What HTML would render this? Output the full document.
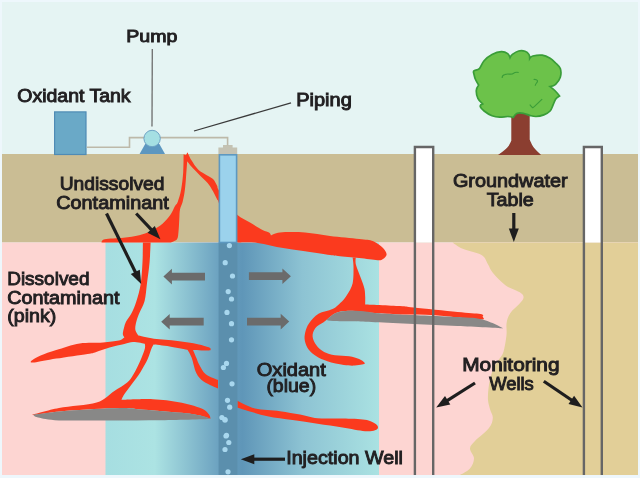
<!DOCTYPE html>
<html><head><meta charset="utf-8"><style>
html,body{margin:0;padding:0;background:#eef7fc;}
svg{display:block;will-change:transform;}
</style></head><body>
<svg width="640" height="478" viewBox="0 0 640 478">
<rect x="0" y="0" width="640" height="478" fill="#eef7fc"/>
<rect x="2" y="2" width="636" height="152.5" fill="#e5f4f3"/>
<rect x="2" y="154" width="636" height="88.5" fill="#cabd94"/>
<rect x="2" y="242.5" width="636" height="232.5" fill="#fdd5d2"/>
<path d="M452.6,242.5 C452.6,242.5 457.9,246.7 462.7,248.8 C467.5,250.9 477.3,252.5 481.5,255.0 C485.7,257.5 485.9,260.9 487.8,263.9 C489.7,266.8 489.9,269.1 492.8,272.7 C495.7,276.2 500.8,281.8 505.4,285.2 C510.0,288.6 517.5,290.7 520.5,292.8 C523.5,294.9 523.7,295.9 523.5,297.8 C523.3,299.7 521.4,301.5 519.2,304.0 C517.0,306.5 512.5,309.8 510.4,312.9 C508.3,316.0 507.2,319.2 506.6,322.9 C506.0,326.6 507.0,330.2 506.5,335.0 C506.0,339.8 504.8,347.5 503.5,351.7 C502.2,355.9 500.2,357.2 498.5,360.0 C496.8,362.8 494.9,365.4 493.5,368.5 C492.1,371.6 491.0,375.2 490.2,378.5 C489.4,381.8 488.9,384.9 488.5,388.5 C488.1,392.1 487.7,396.4 488.0,400.0 C488.3,403.6 489.5,407.0 490.3,410.0 C491.1,413.0 493.0,415.0 492.8,418.0 C492.6,421.0 492.0,424.2 489.0,428.0 C486.0,431.8 478.2,437.6 475.0,441.0 C471.8,444.4 470.2,445.6 470.0,448.5 C469.8,451.4 474.0,455.2 474.0,458.5 C474.0,461.8 472.3,465.8 470.0,468.5 C467.7,471.2 460.0,475.0 460.0,475.0 C460.0,475.0 638.0,475.0 638.0,475.0 C638.0,475.0 638.0,242.5 638.0,242.5 C638.0,242.5 452.6,242.5 452.6,242.5Z" fill="#e2cf98"/>
<defs>
<linearGradient id="ox" x1="105.5" y1="0" x2="379" y2="0" gradientUnits="userSpaceOnUse">
<stop offset="0" stop-color="#a6dee1"/>
<stop offset="0.18" stop-color="#ace3e3"/>
<stop offset="0.42" stop-color="#6aa0bf"/>
<stop offset="0.5" stop-color="#5f96b8"/>
<stop offset="0.72" stop-color="#8dc3d3"/>
<stop offset="1" stop-color="#aae2e2"/>
</linearGradient>
</defs>
<rect x="105.5" y="242.5" width="273.5" height="232.5" fill="url(#ox)"/>
<path d="M187.5,152.2 C187.5,152.2 189.5,157.1 191.3,160.0 C193.1,162.9 195.6,167.0 198.1,169.5 C200.6,172.0 203.8,173.3 206.3,174.9 C208.8,176.5 211.2,177.2 213.0,179.0 C214.8,180.8 216.2,184.0 217.1,185.8 C218.0,187.6 216.7,187.1 218.5,189.8 C220.3,192.5 224.8,197.8 228.0,202.0 C231.2,206.2 233.8,211.6 237.5,215.0 C241.2,218.4 245.8,220.0 250.0,222.5 C254.2,225.0 259.3,228.3 262.5,230.0 C265.7,231.7 267.6,231.6 269.0,232.5 C270.4,233.4 271.0,235.5 271.0,235.5 C271.0,235.5 274.3,233.0 280.0,232.5 C285.7,232.0 296.7,231.9 305.0,232.5 C313.3,233.1 321.0,234.9 330.0,236.0 C339.0,237.1 352.0,238.1 359.2,239.0 C366.4,239.9 369.3,239.7 373.3,241.2 C377.3,242.7 380.8,245.8 383.0,248.0 C385.2,250.2 386.6,252.7 386.6,254.5 C386.6,256.3 384.5,258.1 383.0,259.0 C381.5,259.9 381.5,260.4 377.5,260.2 C373.5,260.0 365.8,258.7 359.2,258.0 C352.6,257.3 342.9,256.5 338.0,256.0 C333.1,255.5 335.5,255.8 330.0,255.0 C324.5,254.2 313.3,252.4 305.0,251.2 C296.7,249.9 288.3,248.9 280.0,247.5 C271.7,246.1 262.1,243.3 255.0,242.5 C247.9,241.7 237.5,242.5 237.5,242.5 C237.5,242.5 228.2,226.8 225.0,220.0 C221.8,213.2 219.8,205.4 218.5,202.0 C217.2,198.6 218.0,201.1 217.1,199.3 C216.2,197.5 214.6,193.9 213.0,191.2 C211.4,188.5 209.8,185.7 207.6,183.0 C205.3,180.3 202.0,177.4 199.5,174.9 C197.0,172.4 194.8,170.4 192.7,168.1 C190.6,165.8 187.2,161.3 187.2,161.3 C187.2,161.3 186.3,173.8 185.9,179.0 C185.5,184.2 185.1,188.8 184.5,192.6 C183.9,196.4 183.3,199.2 182.6,202.0 C181.8,204.8 180.6,206.6 180.0,209.4 C179.4,212.2 179.6,215.1 179.3,218.8 C179.1,222.5 178.9,228.0 178.5,231.4 C178.1,234.8 178.3,237.3 177.0,239.2 C175.7,241.0 170.6,242.5 170.6,242.5 C170.6,242.5 101.6,242.5 101.6,242.5 C101.6,242.5 101.0,240.0 104.7,239.2 C108.4,238.4 117.8,238.3 123.5,237.7 C129.2,237.0 134.5,236.5 139.2,235.3 C143.9,234.1 147.9,232.6 151.8,230.6 C155.7,228.6 159.7,226.2 162.8,223.5 C165.9,220.8 168.6,217.4 170.6,214.5 C172.6,211.6 173.8,208.2 175.0,206.1 C176.2,204.0 176.7,204.7 177.7,202.0 C178.7,199.3 180.2,194.8 181.1,189.8 C182.0,184.8 182.8,178.1 183.2,172.2 C183.6,166.3 183.6,154.3 183.6,154.3 C183.6,154.3 186.0,155.2 186.0,155.2 C186.0,155.2 187.5,152.2 187.5,152.2Z" fill="#fb3a1e"/>
<path d="M142.9,242.5 C142.9,242.5 150.6,242.5 150.6,242.5 C150.6,242.5 150.2,255.1 149.6,262.0 C149.0,268.9 147.7,277.5 146.9,284.0 C146.1,290.5 145.8,296.3 144.6,301.0 C143.4,305.7 140.9,309.1 139.6,312.4 C138.2,315.7 137.2,318.2 136.5,321.0 C135.8,323.8 135.0,327.0 135.3,329.4 C135.6,331.8 138.4,335.6 138.4,335.6 C138.4,335.6 147.5,337.9 154.0,338.8 C160.5,339.6 170.2,340.1 177.5,341.0 C184.8,341.9 192.6,343.1 197.8,344.2 C203.0,345.2 206.6,346.5 208.8,347.3 C210.9,348.1 210.5,348.5 210.5,349.0 C210.5,349.5 211.7,350.4 208.8,350.5 C205.8,350.6 193.0,349.9 193.0,349.9 C193.0,349.9 195.2,355.0 196.2,357.5 C197.3,360.0 197.8,362.2 199.4,365.0 C201.0,367.8 202.7,371.8 205.8,374.3 C208.9,376.8 218.0,380.0 218.0,380.0 C218.0,380.0 218.0,388.4 218.0,388.4 C218.0,388.4 207.6,384.3 204.0,381.8 C200.4,379.3 198.5,377.4 196.4,373.3 C194.3,369.2 193.1,361.4 191.6,357.5 C190.1,353.6 187.7,349.9 187.7,349.9 C187.7,349.9 175.4,347.4 169.7,346.5 C164.0,345.6 153.6,344.6 153.6,344.6 C153.6,344.6 152.4,346.4 151.4,348.8 C150.4,351.2 149.5,355.1 147.7,359.0 C145.9,362.9 142.8,368.3 140.4,372.2 C138.0,376.1 135.7,378.8 133.0,382.5 C130.3,386.2 126.2,391.3 124.3,394.2 C122.4,397.1 121.4,400.0 121.4,400.0 C121.4,400.0 143.4,398.8 153.0,399.2 C162.6,399.6 170.8,400.7 178.8,402.2 C186.8,403.7 196.0,406.2 201.0,408.2 C206.0,410.2 207.2,412.4 208.8,414.2 C210.4,416.0 210.5,418.8 210.5,418.8 C210.5,418.8 206.1,416.9 202.0,416.0 C197.9,415.1 195.6,414.3 186.0,413.3 C176.4,412.3 155.4,410.7 144.4,409.8 C133.4,408.9 132.9,407.8 120.0,408.0 C107.1,408.2 81.0,409.7 66.9,410.8 C52.8,411.9 41.2,414.2 35.6,414.8 C30.0,415.4 33.3,414.5 33.3,414.5 C33.3,414.5 48.5,410.0 59.0,408.0 C69.5,406.0 87.4,405.3 96.6,402.5 C105.8,399.7 108.9,394.5 114.0,391.2 C119.1,387.9 123.9,385.4 127.2,382.5 C130.5,379.6 131.6,377.4 133.8,373.7 C136.0,370.0 138.6,364.6 140.4,360.5 C142.2,356.4 144.1,351.6 144.8,348.8 C145.5,346.0 144.8,343.7 144.8,343.7 C144.8,343.7 136.4,341.9 133.0,342.0 C129.6,342.1 128.2,343.1 124.3,344.0 C120.4,344.9 114.5,346.2 109.6,347.6 C104.7,349.0 98.7,351.3 95.0,352.4 C91.3,353.4 94.0,352.9 87.5,353.9 C81.0,354.9 65.1,357.2 56.2,358.6 C47.4,360.0 38.6,362.1 34.4,362.5 C30.2,362.9 30.2,362.2 31.2,361.0 C32.3,359.8 36.4,357.3 40.6,355.5 C44.8,353.7 49.7,352.0 56.2,350.0 C62.8,348.0 71.9,344.6 79.7,343.4 C87.5,342.1 96.5,343.0 103.0,342.5 C109.5,342.0 115.2,341.5 118.8,340.6 C122.3,339.7 124.4,337.2 124.4,337.2 C124.4,337.2 122.8,335.8 122.8,334.0 C122.8,332.2 123.8,328.4 124.4,326.2 C125.0,324.1 125.2,323.4 126.4,321.1 C127.7,318.8 130.2,315.7 131.9,312.4 C133.6,309.1 134.8,306.1 136.3,301.4 C137.8,296.7 139.7,290.6 140.7,284.0 C141.7,277.4 142.1,268.9 142.5,262.0 C142.9,255.1 142.9,242.5 142.9,242.5Z" fill="#fb3a1e"/>
<path d="M33.3,414.8 C33.3,414.8 52.5,411.9 66.9,410.8 C81.4,409.7 107.1,408.2 120.0,408.0 C132.9,407.8 133.4,408.9 144.4,409.8 C155.4,410.7 176.4,412.3 186.0,413.3 C195.6,414.3 197.9,415.1 202.0,416.0 C206.1,416.9 210.5,419.0 210.5,419.0 C210.5,419.0 178.2,420.0 161.5,420.2 C144.8,420.4 127.1,420.4 110.0,420.4 C92.9,420.4 71.0,420.9 59.0,420.4 C47.0,419.9 42.3,418.4 38.0,417.5 C33.7,416.6 33.3,414.8 33.3,414.8Z" fill="#888887"/>
<path d="M237.5,400.8 C237.5,400.8 247.9,406.8 255.0,408.5 C262.1,410.2 272.5,410.2 280.0,411.2 C287.5,412.3 293.8,413.4 300.0,414.6 C306.2,415.8 310.4,417.7 317.5,418.3 C324.6,418.9 334.6,418.3 342.5,418.5 C350.4,418.7 359.6,418.9 365.0,419.7 C370.4,420.5 372.8,422.2 375.0,423.5 C377.2,424.8 378.0,426.4 378.0,427.5 C378.0,428.6 377.2,429.6 375.0,430.2 C372.8,430.8 370.4,431.6 365.0,431.2 C359.6,430.8 350.4,428.7 342.5,427.5 C334.6,426.3 325.8,425.0 317.5,423.8 C309.2,422.5 300.8,421.2 292.5,420.0 C284.2,418.8 275.4,417.9 267.5,416.2 C259.6,414.6 250.0,411.5 245.0,410.0 C240.0,408.5 237.5,407.5 237.5,407.5 C237.5,407.5 237.5,400.8 237.5,400.8Z" fill="#fb3a1e"/>
<path d="M352.6,257.5 C352.6,257.5 355.8,257.5 355.8,257.5 C355.8,257.5 355.1,261.5 356.0,265.0 C356.9,268.5 359.6,274.6 361.0,278.5 C362.4,282.4 363.7,285.4 364.4,288.5 C365.1,291.6 365.1,294.4 365.2,297.0 C365.3,299.6 365.2,304.4 365.2,304.4 C365.2,304.4 391.9,305.5 400.0,306.0 C408.1,306.5 404.2,306.5 413.8,307.5 C423.3,308.5 446.4,310.8 457.5,311.9 C468.6,313.0 476.3,313.2 480.5,314.0 C484.7,314.8 482.9,315.8 482.7,316.7 C482.5,317.6 487.2,319.8 479.4,319.5 C471.5,319.2 448.8,316.1 435.6,315.2 C422.4,314.3 410.1,314.8 400.0,314.4 C389.9,314.0 383.4,313.6 375.0,313.0 C366.6,312.4 356.4,310.7 349.9,310.7 C343.4,310.7 339.7,311.4 335.8,313.0 C331.9,314.6 326.4,320.1 326.4,320.1 C326.4,320.1 325.0,321.2 323.2,322.5 C321.4,323.8 317.2,325.6 315.4,328.0 C313.6,330.4 312.4,333.7 312.6,336.6 C312.8,339.5 314.5,342.8 316.4,345.3 C318.3,347.9 321.0,350.2 324.1,351.9 C327.2,353.5 330.8,354.5 335.0,355.2 C339.2,355.9 345.2,355.6 349.2,356.2 C353.2,356.9 356.5,357.9 359.1,359.0 C361.7,360.1 364.3,362.1 364.8,363.0 C365.3,363.9 363.7,364.2 362.0,364.6 C360.3,365.0 357.7,365.5 354.7,365.6 C351.7,365.7 348.4,365.7 343.8,365.0 C339.2,364.3 331.9,362.7 327.4,361.2 C322.8,359.7 319.5,358.2 316.4,356.2 C313.3,354.3 310.7,352.2 308.8,349.7 C306.8,347.2 305.5,343.9 304.9,341.0 C304.3,338.1 304.5,335.6 305.2,332.6 C305.9,329.6 306.9,326.3 309.1,323.2 C311.3,320.1 314.6,316.1 318.5,313.8 C322.4,311.5 328.9,310.9 332.6,309.1 C336.3,307.3 338.1,305.1 340.5,302.8 C342.9,300.5 344.8,298.4 346.8,295.2 C348.8,292.0 351.5,288.2 352.6,283.5 C353.7,278.8 353.5,271.0 353.5,266.7 C353.5,262.4 352.6,257.5 352.6,257.5Z" fill="#fb3a1e"/>
<path d="M326.4,320.1 C326.4,320.1 331.9,314.6 335.8,313.0 C339.7,311.4 344.9,310.9 349.9,310.7 C354.9,310.4 361.4,311.1 365.6,311.5 C369.8,311.9 369.3,312.5 375.0,313.0 C380.7,313.5 386.2,313.7 400.0,314.4 C413.8,315.1 443.7,316.1 457.5,317.0 C471.3,317.9 475.1,317.6 482.7,319.5 C490.3,321.4 503.4,328.3 503.4,328.3 C503.4,328.3 472.4,326.7 457.5,326.0 C442.6,325.3 427.5,324.5 413.8,323.9 C400.0,323.3 385.0,322.7 375.0,322.3 C365.0,321.9 360.5,321.5 353.5,321.3 C346.5,321.1 337.5,321.2 333.0,321.0 C328.5,320.8 326.4,320.1 326.4,320.1Z" fill="#888887"/>
<rect x="218.6" y="242.5" width="18.8" height="232.5" fill="#5b8fad"/>
<rect x="219.4" y="154.8" width="17.2" height="87.7" fill="#9bd2ec" stroke="#5d98c0" stroke-width="1.6"/>
<path d="M223,147.5 V145 H232.6 V147.5 H237.2 V154 H218.4 V147.5 Z" fill="#c4c2b2"/>
<circle cx="229.4" cy="245.6" r="2.6" fill="#a8d7ee"/>
<circle cx="225.2" cy="262.7" r="2.6" fill="#a8d7ee"/>
<circle cx="232.5" cy="276.0" r="2.6" fill="#a8d7ee"/>
<circle cx="228.2" cy="291.6" r="2.6" fill="#a8d7ee"/>
<circle cx="231.5" cy="299.0" r="2.6" fill="#a8d7ee"/>
<circle cx="227.0" cy="312.4" r="2.6" fill="#a8d7ee"/>
<circle cx="231.5" cy="323.7" r="2.6" fill="#a8d7ee"/>
<circle cx="231.5" cy="339.8" r="2.6" fill="#a8d7ee"/>
<circle cx="226.5" cy="363.4" r="2.6" fill="#a8d7ee"/>
<circle cx="223.4" cy="367.5" r="2.6" fill="#a8d7ee"/>
<circle cx="232.0" cy="383.8" r="2.6" fill="#a8d7ee"/>
<circle cx="227.5" cy="400.3" r="2.6" fill="#a8d7ee"/>
<circle cx="229.7" cy="407.2" r="2.6" fill="#a8d7ee"/>
<circle cx="221.9" cy="417.5" r="2.6" fill="#a8d7ee"/>
<circle cx="225.0" cy="419.7" r="2.6" fill="#a8d7ee"/>
<circle cx="226.5" cy="435.3" r="2.6" fill="#a8d7ee"/>
<circle cx="226.0" cy="436.0" r="2.6" fill="#a8d7ee"/>
<circle cx="228.8" cy="442.5" r="2.6" fill="#a8d7ee"/>
<circle cx="225.0" cy="449.5" r="2.6" fill="#a8d7ee"/>
<circle cx="228.0" cy="471.8" r="2.6" fill="#a8d7ee"/>
<circle cx="225.0" cy="420.0" r="2.6" fill="#a8d7ee"/>
<rect x="414.9" y="147" width="18.3" height="95.5" fill="#ffffff"/>
<path d="M414.9,475 V147 H433.2 V475" fill="none" stroke="#666666" stroke-width="2.4"/>
<rect x="583.9" y="147" width="17.9" height="95.5" fill="#ffffff"/>
<path d="M583.9,475 V147 H601.8 V475" fill="none" stroke="#666666" stroke-width="2.4"/>
<rect x="54.6" y="111.9" width="31.4" height="42.6" fill="#6aa9c7" stroke="#4f8bb5" stroke-width="1.2"/>
<path d="M86.7,147.3 H129.5 V137.6 H150 M160,137.6 H227.6 V145.5" fill="none" stroke="#bdb9a9" stroke-width="1.6"/>
<path d="M145.2,144 H159.4 L165,154 H139.6 Z" fill="#5d97c0"/>
<circle cx="152.1" cy="138.5" r="8.2" fill="#a5dfe3" stroke="#6ea3c5" stroke-width="1"/>
<line x1="152.3" y1="49" x2="152" y2="126.4" stroke="#6d6d6d" stroke-width="1.3"/>
<line x1="194" y1="131" x2="291" y2="102.8" stroke="#3a3a3a" stroke-width="1.3"/>
<path d="M511.3,112.0 C511.3,112.0 529.7,112.0 529.7,112.0 C529.7,112.0 529.7,139.5 529.7,139.5 C529.7,139.5 531.9,145.0 533.8,147.6 C535.7,150.2 541.2,155.1 541.2,155.1 C541.2,155.1 498.0,155.1 498.0,155.1 C498.0,155.1 505.1,150.0 507.3,147.6 C509.5,145.2 511.3,140.7 511.3,140.7 C511.3,140.7 511.3,112.0 511.3,112.0Z" fill="#8b3e30"/>
<path d="M473.9,70.9 C474.8,70.0 477.7,70.3 479.4,68.6 C481.1,66.9 482.0,63.1 484.1,60.7 C486.2,58.3 489.1,55.9 492.0,54.4 C494.9,52.9 498.8,51.7 501.4,51.6 C504.0,51.5 506.3,52.6 507.7,53.6 C509.1,54.6 510.0,57.6 510.0,57.6 C510.0,57.6 510.9,55.5 512.4,54.4 C513.9,53.3 516.6,51.5 518.7,51.0 C520.8,50.5 523.3,50.7 525.0,51.3 C526.7,51.9 528.1,53.2 528.9,54.4 C529.7,55.6 529.7,58.3 529.7,58.3 C529.7,58.3 530.7,56.5 532.8,56.0 C534.9,55.5 539.3,54.8 542.2,55.2 C545.1,55.6 547.9,57.0 550.1,58.3 C552.3,59.6 553.9,61.3 555.6,63.0 C557.3,64.7 559.5,66.2 560.3,68.6 C561.1,71.0 561.1,74.6 560.3,77.2 C559.5,79.8 557.3,82.7 555.6,84.3 C553.9,85.9 550.1,86.6 550.1,86.6 C550.1,86.6 553.2,88.9 554.8,90.5 C556.4,92.1 559.5,96.0 559.5,96.0 C559.5,96.0 556.6,97.8 555.6,99.2 C554.6,100.7 554.1,102.7 553.2,104.7 C552.3,106.7 551.7,109.3 550.1,111.0 C548.5,112.7 546.1,114.0 543.8,114.9 C541.4,115.8 538.4,116.4 536.0,116.5 C533.6,116.6 531.8,115.9 529.7,115.4 C527.6,114.9 525.5,113.7 523.4,113.3 C521.3,112.9 518.8,112.6 517.1,113.3 C515.4,114.0 513.2,117.5 513.2,117.5 C513.2,117.5 509.9,116.5 507.7,116.5 C505.5,116.5 502.4,117.3 499.8,117.2 C497.2,117.1 494.6,116.7 492.0,115.7 C489.4,114.7 486.1,112.6 484.1,111.0 C482.1,109.4 480.4,107.4 480.2,106.2 C479.9,105.0 482.6,103.9 482.6,103.9 C482.6,103.9 478.9,100.6 477.9,98.4 C476.8,96.2 476.2,92.7 476.3,90.5 C476.4,88.3 478.6,85.0 478.6,85.0 C478.6,85.0 476.3,81.3 475.5,79.5 C474.7,77.7 474.2,75.4 473.9,74.0 C473.6,72.6 473.0,71.8 473.9,70.9Z" fill="#6cc24a" stroke="#3a9d38" stroke-width="1.7"/>
<path d="M502.2,78 C502,76 503,75 505,74.5 C507,73.5 510,74.5 512.4,74 C514,73 515,71.5 518.7,72.5" fill="none" stroke="#3a9d38" stroke-width="1.1"/>
<path d="M533.6,79.5 C535,79 538,80 537.5,81.5 C537,83 535.5,83.5 535.2,85.8" fill="none" stroke="#3a9d38" stroke-width="1.1"/>
<path d="M529.7,104.7 C531,106 532,107.5 532.8,107.8 C535,106.5 539,102 542.2,99.2" fill="none" stroke="#3a9d38" stroke-width="1.1"/>
<path d="M205.0,272.7 H171.9 V268.8 L163.4,276.6 L171.9,284.4 V280.5 H205.0 Z" fill="#6b6b6b"/>
<path d="M203.7,317.8 H169.7 V313.9 L161.2,321.7 L169.7,329.5 V325.6 H203.7 Z" fill="#6b6b6b"/>
<path d="M248.9,272.3 H282.4 V268.4 L290.9,276.2 L282.4,284.0 V280.1 H248.9 Z" fill="#6b6b6b"/>
<path d="M247.0,317.7 H280.7 V313.8 L289.2,321.6 L280.7,329.4 V325.5 H247.0 Z" fill="#6b6b6b"/>
<line x1="106.5" y1="213.5" x2="135.7" y2="272.8" stroke="#1e1e1e" stroke-width="3.2"/><path d="M141.2,284.0 L130.8,274.1 L139.8,269.7 Z" fill="#1e1e1e"/>
<line x1="136.2" y1="213.5" x2="151.8" y2="230.1" stroke="#1e1e1e" stroke-width="3.2"/><path d="M160.4,239.2 L147.5,232.8 L154.8,225.9 Z" fill="#1e1e1e"/>
<line x1="513.8" y1="213.0" x2="513.8" y2="229.5" stroke="#1e1e1e" stroke-width="3.2"/><path d="M513.8,242.0 L508.8,228.5 L518.8,228.5 Z" fill="#1e1e1e"/>
<line x1="475.0" y1="383.0" x2="446.8" y2="400.8" stroke="#1e1e1e" stroke-width="3.2"/><path d="M436.2,407.5 L445.0,396.1 L450.3,404.5 Z" fill="#1e1e1e"/>
<line x1="543.8" y1="381.2" x2="572.2" y2="400.5" stroke="#1e1e1e" stroke-width="3.2"/><path d="M582.5,407.5 L568.5,404.1 L574.1,395.8 Z" fill="#1e1e1e"/>
<line x1="285.0" y1="459.2" x2="253.3" y2="459.2" stroke="#1e1e1e" stroke-width="3.2"/><path d="M240.8,459.2 L254.3,454.2 L254.3,464.2 Z" fill="#1e1e1e"/>
<g font-family="'Liberation Sans', sans-serif" font-weight="normal" fill="#222022" stroke="#222022" stroke-width="0.9"><text x="126.2" y="41.8" font-size="17.0" textLength="51.2" lengthAdjust="spacingAndGlyphs">Pump</text><text x="17.3" y="101.9" font-size="17.6" textLength="113.3" lengthAdjust="spacingAndGlyphs">Oxidant Tank</text><text x="296.2" y="105.7" font-size="17.6" textLength="55.6" lengthAdjust="spacingAndGlyphs">Piping</text><text x="59.7" y="189.9" font-size="18.0" textLength="104.8" lengthAdjust="spacingAndGlyphs">Undissolved</text><text x="56.2" y="208.5" font-size="18.0" textLength="112.6" lengthAdjust="spacingAndGlyphs">Contaminant</text><text x="452.9" y="187.3" font-size="18.0" textLength="114.8" lengthAdjust="spacingAndGlyphs">Groundwater</text><text x="486.7" y="205.6" font-size="18.0" textLength="47.1" lengthAdjust="spacingAndGlyphs">Table</text><text x="7.2" y="285.0" font-size="18.0" textLength="82.3" lengthAdjust="spacingAndGlyphs">Dissolved</text><text x="7.2" y="304.2" font-size="18.0" textLength="112.3" lengthAdjust="spacingAndGlyphs">Contaminant</text><text x="7.2" y="321.8" font-size="18.0" textLength="49.1" lengthAdjust="spacingAndGlyphs">(pink)</text><text x="256.8" y="375.5" font-size="18.0" textLength="69.0" lengthAdjust="spacingAndGlyphs">Oxidant</text><text x="266.4" y="392.3" font-size="18.0" textLength="49.8" lengthAdjust="spacingAndGlyphs">(blue)</text><text x="462.2" y="371.2" font-size="17.5" textLength="97.3" lengthAdjust="spacingAndGlyphs">Monitoring</text><text x="489.2" y="390.2" font-size="17.5" textLength="44.6" lengthAdjust="spacingAndGlyphs">Wells</text><text x="286.2" y="464.1" font-size="18.0" textLength="116.8" lengthAdjust="spacingAndGlyphs">Injection Well</text></g>
</svg>
</body></html>
